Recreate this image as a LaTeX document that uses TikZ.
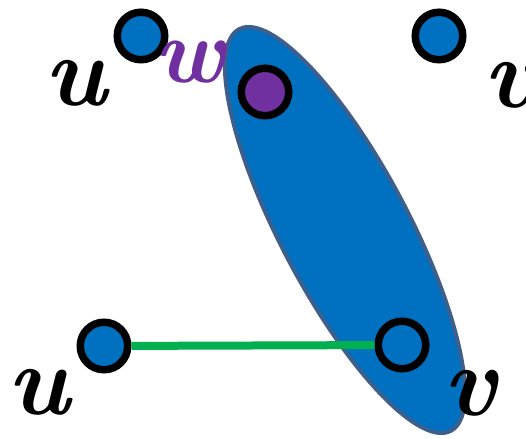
\documentclass[tikz,border=0pt]{standalone}
\usepackage{tikz}
\usepackage{xcolor}
\definecolor{vertexfill}{HTML}{0070C0}
\definecolor{groupedge}{HTML}{3E5F8C}
\definecolor{wpurple}{HTML}{7030A0}
\definecolor{edgegreen}{HTML}{00B050}
\usetikzlibrary{positioning}

\begin{document}
\begin{tikzpicture}[
        x=1pt, y=1pt,
        vertex/.style={
            circle,
            draw=black,
            line width=7.5pt,
            fill=vertexfill,
            minimum size=47.5pt,
            inner sep=0pt
        },
        lbl/.style={
            inner sep=0pt,
            font=\fontsize{100}{100}\selectfont\bfseries\itshape
        }
    ]

    \useasboundingbox (0,0) rectangle (526,438);

    % Group around w and v
    \draw[groupedge, fill=vertexfill, line width=4pt, rotate around={-62.2:(345,208)}]
        (345,208) ellipse (227 and 64);

    % Vertices
    \node[vertex] (u1) at (141,402) {};
    \node[vertex] (v1) at (439,402) {};
    \node[vertex, fill=wpurple] (w) at (265,346) {};
    \node[vertex] (u2) at (104,92) {};
    \node[vertex, fill=none] (v2) at (402,93) {};

    % Labels
    \node[lbl] (lu1) at (76,355) {u};
    \node[lbl, text=wpurple, font=\fontsize{92}{92}\selectfont\bfseries\itshape] (lw) at (190,376) {w};
    \node[lbl] (lv1) at (510,353) {v};
    \node[lbl] (lu2) at (39,46) {u};
    \node[lbl] (lv2) at (470,45) {v};

    % Edge
    \draw[edgegreen, line width=8pt] (u2) -- (v2);

\end{tikzpicture}
\end{document}
